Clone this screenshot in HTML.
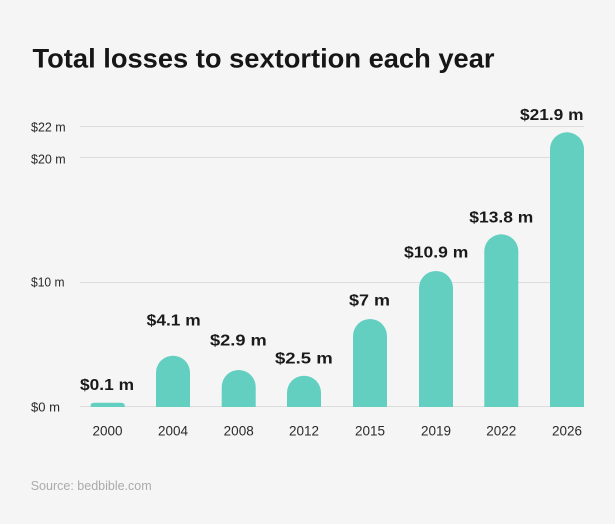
<!DOCTYPE html>
<html>
<head>
<meta charset="utf-8">
<style>
  html, body { margin: 0; padding: 0; background: #f5f5f5; }
  svg { display: block; }
  text { font-family: "Liberation Sans", Arial, sans-serif; }
</style>
</head>
<body>
<svg width="615" height="524" viewBox="0 0 615 524" xmlns="http://www.w3.org/2000/svg">
  <rect x="0" y="0" width="615" height="524" fill="#f5f5f5"/>

  <!-- Title -->
  <text x="32.5" y="67.3" font-size="27" font-weight="bold" fill="#161616" textLength="462" lengthAdjust="spacingAndGlyphs">Total losses to sextortion each year</text>

  <!-- Gridlines -->
  <g stroke="#dcdcdc" stroke-width="1">
    <line x1="80" y1="126.5" x2="584" y2="126.5"/>
    <line x1="80" y1="157.5" x2="584" y2="157.5"/>
    <line x1="80" y1="282.5" x2="584" y2="282.5"/>
    <line x1="80" y1="406.5" x2="584" y2="406.5"/>
  </g>

  <!-- Y axis labels -->
  <g font-size="12.5" fill="#2a2a2a">
    <text x="31" y="131.7" textLength="34.7" lengthAdjust="spacingAndGlyphs">$22 m</text>
    <text x="31" y="163.3" textLength="34.7" lengthAdjust="spacingAndGlyphs">$20 m</text>
    <text x="31" y="286.7" textLength="33.5" lengthAdjust="spacingAndGlyphs">$10 m</text>
    <text x="31" y="411.7" textLength="29" lengthAdjust="spacingAndGlyphs">$0 m</text>
  </g>

  <!-- Bars -->
  <g fill="#63cfc1">
    <path d="M90.7,407 V405 Q90.7,402.7 95,402.7 H120 Q124.7,402.7 124.7,405 V407 Z"/>
    <path d="M156,407 V372.7 A17,17 0 0 1 190,372.7 V407 Z"/>
    <path d="M221.7,407 V387 A17,17 0 0 1 255.7,387 V407 Z"/>
    <path d="M287,407 V392.7 A17,17 0 0 1 321,392.7 V407 Z"/>
    <path d="M353,407 V336 A17,17 0 0 1 387,336 V407 Z"/>
    <path d="M419,407 V288 A17,17 0 0 1 453,288 V407 Z"/>
    <path d="M484.3,407 V251.3 A17,17 0 0 1 518.3,251.3 V407 Z"/>
    <path d="M550,407 V149.3 A17,17 0 0 1 584,149.3 V407 Z"/>
  </g>

  <!-- Value labels -->
  <g font-size="16" font-weight="bold" fill="#1a1a1a">
    <text x="80" y="390" textLength="54" lengthAdjust="spacingAndGlyphs">$0.1 m</text>
    <text x="146.7" y="325.7" textLength="54" lengthAdjust="spacingAndGlyphs">$4.1 m</text>
    <text x="210" y="345.7" textLength="56.7" lengthAdjust="spacingAndGlyphs">$2.9 m</text>
    <text x="275" y="363.3" textLength="57.7" lengthAdjust="spacingAndGlyphs">$2.5 m</text>
    <text x="349" y="305.7" textLength="41" lengthAdjust="spacingAndGlyphs">$7 m</text>
    <text x="404" y="257.3" textLength="64.3" lengthAdjust="spacingAndGlyphs">$10.9 m</text>
    <text x="469.3" y="222.3" textLength="64" lengthAdjust="spacingAndGlyphs">$13.8 m</text>
    <text x="520" y="120" textLength="63.5" lengthAdjust="spacingAndGlyphs">$21.9 m</text>
  </g>

  <!-- X axis labels -->
  <g font-size="13.5" fill="#2a2a2a" text-anchor="middle">
    <text x="107.5" y="435.7">2000</text>
    <text x="173" y="435.7">2004</text>
    <text x="238.7" y="435.7">2008</text>
    <text x="304" y="435.7">2012</text>
    <text x="370" y="435.7">2015</text>
    <text x="436" y="435.7">2019</text>
    <text x="501.3" y="435.7">2022</text>
    <text x="567" y="435.7">2026</text>
  </g>

  <!-- Source -->
  <text x="30.7" y="490" font-size="12.8" fill="#ababab" textLength="121" lengthAdjust="spacingAndGlyphs">Source: bedbible.com</text>
</svg>
</body>
</html>
